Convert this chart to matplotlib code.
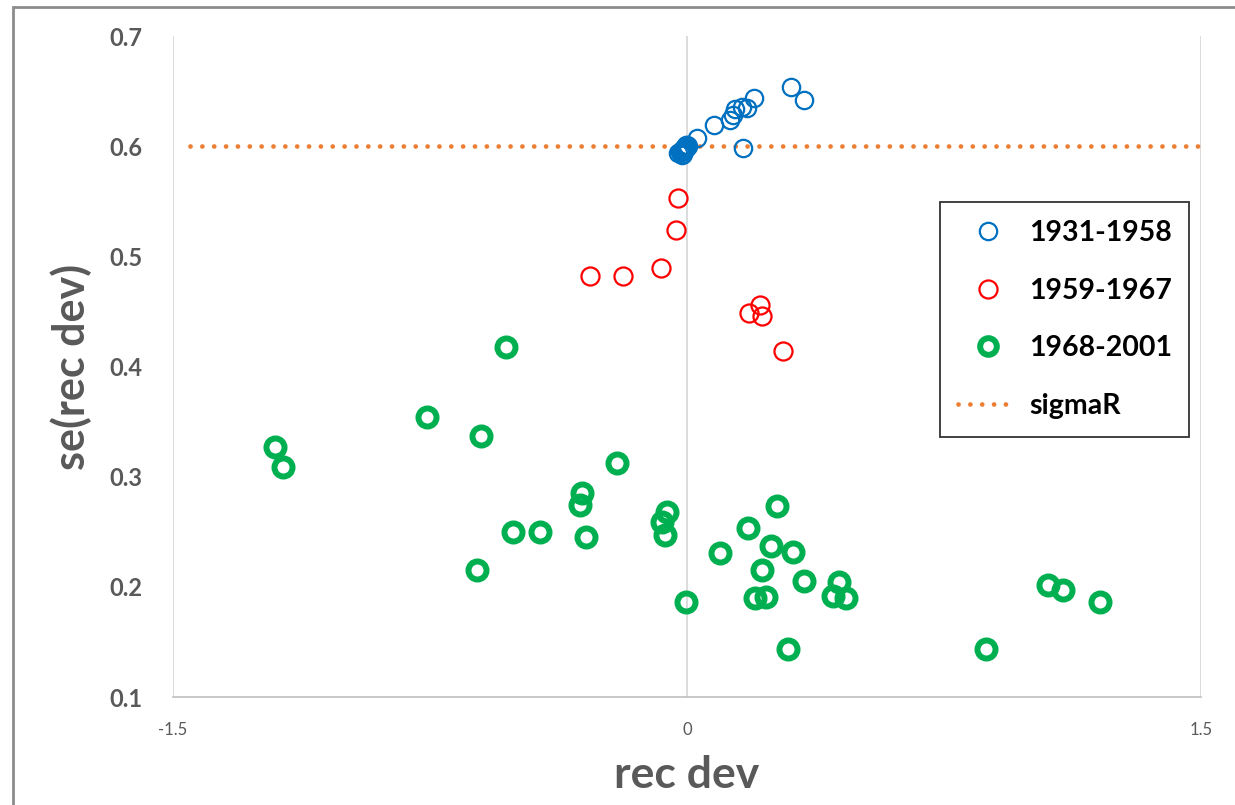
import matplotlib
matplotlib.use("Agg")
import matplotlib.pyplot as plt
from matplotlib.lines import Line2D
from matplotlib.patches import Rectangle

plt.rcParams['font.family'] = ['Lato', 'DejaVu Sans']

# 1931-1958
blue_x = [-0.025, -0.02, -0.018, -0.015, -0.013, -0.01, -0.008, -0.006, -0.005,
          -0.003, -0.002, 0.0, 0.002, -0.012, -0.016, -0.004, 0.001,
          0.030, 0.079, 0.125, 0.134, 0.140, 0.160, 0.175, 0.196, 0.303, 0.341, 0.163]
blue_y = [0.594, 0.595, 0.596, 0.595, 0.597, 0.596, 0.598, 0.597, 0.599,
          0.598, 0.600, 0.599, 0.600, 0.593, 0.592, 0.601, 0.601,
          0.607, 0.619, 0.624, 0.628, 0.634, 0.636, 0.635, 0.644, 0.654, 0.642, 0.598]

# 1959-1967
red_x = [-0.025, -0.031, -0.077, -0.283, -0.188, 0.214, 0.181, 0.220, 0.281]
red_y = [0.553, 0.524, 0.489, 0.482, 0.482, 0.456, 0.449, 0.446, 0.414]

# 1968-2001
green_x = [-1.202, -1.179, -0.759, -0.601, -0.528, -0.613, -0.508, -0.429, -0.306,
           -0.312, -0.295, -0.204, -0.058, -0.073, -0.064, -0.003, 0.096, 0.178,
           0.263, 0.245, 0.219, 0.198, 0.231, 0.309, 0.341, 0.295, 0.444, 0.426,
           0.464, 0.873, 1.053, 1.097, 1.205]
green_y = [0.327, 0.309, 0.354, 0.337, 0.418, 0.215, 0.250, 0.250, 0.285,
           0.274, 0.245, 0.312, 0.268, 0.259, 0.247, 0.186, 0.231, 0.253,
           0.273, 0.237, 0.215, 0.190, 0.191, 0.232, 0.205, 0.144, 0.204, 0.192,
           0.190, 0.144, 0.202, 0.197, 0.186]

sigmaR = 0.6
x_ticks = [-1.5, 0, 1.5]
x_tick_labels = ["-1.5", "0", "1.5"]
y_ticks = [0.1, 0.2, 0.3, 0.4, 0.5, 0.6, 0.7]
y_tick_labels = ["0.1", "0.2", "0.3", "0.4", "0.5", "0.6", "0.7"]

BLUE = "#0070C0"
RED = "#FF0000"
GREEN = "#00B050"
ORANGE = "#ED7D31"
GRAY = "#595959"

DOT = (0, (0.01, 2.5))

fig = plt.figure(figsize=(12.35, 8.05), dpi=100)
ax = fig.add_axes([173/1235, 1-697/805, (1201-173)/1235, (697-36)/805])

ax.set_xlim(-1.5, 1.5)
ax.set_ylim(0.1, 0.7)

for xv in x_ticks:
    ax.axvline(xv, color="#D9D9D9", lw=1.3, zorder=0)

ax.plot([-1.45, 1.49], [sigmaR, sigmaR], color=ORANGE, lw=3.4, ls=DOT,
        dash_capstyle='round', zorder=1)

ax.plot(blue_x, blue_y, ls='none', marker='o', ms=12.5, mfc='none', mec=BLUE, mew=1.6, zorder=3)
ax.plot(red_x, red_y, ls='none', marker='o', ms=13, mfc='none', mec=RED, mew=1.6, zorder=3)
ax.plot(green_x, green_y, ls='none', marker='o', ms=13, mfc='none', mec=GREEN, mew=4.3, zorder=2)

for s in ['top', 'left', 'right']:
    ax.spines[s].set_visible(False)
ax.spines['bottom'].set_color("#BFBFBF")
ax.spines['bottom'].set_linewidth(1.2)

ax.set_xticks(x_ticks)
ax.set_xticklabels(x_tick_labels, fontsize=12, color=GRAY)
ax.set_yticks(y_ticks)
ax.set_yticklabels(y_tick_labels, fontsize=17, color=GRAY, fontweight='bold')
ax.tick_params(axis='both', length=0)
ax.tick_params(axis='x', pad=18)
ax.tick_params(axis='y', pad=22)

ax.set_xlabel("rec dev", fontsize=32, color=GRAY, fontweight='bold', labelpad=12)
ax.set_ylabel("se(rec dev)", fontsize=31, color=GRAY, fontweight='bold', labelpad=12)

handles = [
    Line2D([], [], ls='none', marker='o', ms=12.5, mfc='none', mec=BLUE, mew=1.6),
    Line2D([], [], ls='none', marker='o', ms=13, mfc='none', mec=RED, mew=1.6),
    Line2D([], [], ls='none', marker='o', ms=12, mfc='none', mec=GREEN, mew=4.3),
    Line2D([], [], color=ORANGE, lw=3.4, ls=DOT, dash_capstyle='round'),
]
labels = ["1931-1958", "1959-1967", "1968-2001", "sigmaR"]
leg = ax.legend(handles, labels, loc='upper left', bbox_to_anchor=((940-173)/1028, 1-(202-36)/661),
                frameon=True, fancybox=False, prop={'weight': 'bold', 'size': 20.5},
                handlelength=2.1, handletextpad=0.4, labelspacing=1.12, borderpad=0.62,
                borderaxespad=0)
leg.get_frame().set_edgecolor('black')
leg.get_frame().set_linewidth(1.3)

fig.patches.append(Rectangle((13/1235, -0.1), 1.5, 1.1 - 7/805, transform=fig.transFigure,
                             fill=False, edgecolor="#8C8C8C", lw=2.0))

fig.savefig("out.png", dpi=100)
